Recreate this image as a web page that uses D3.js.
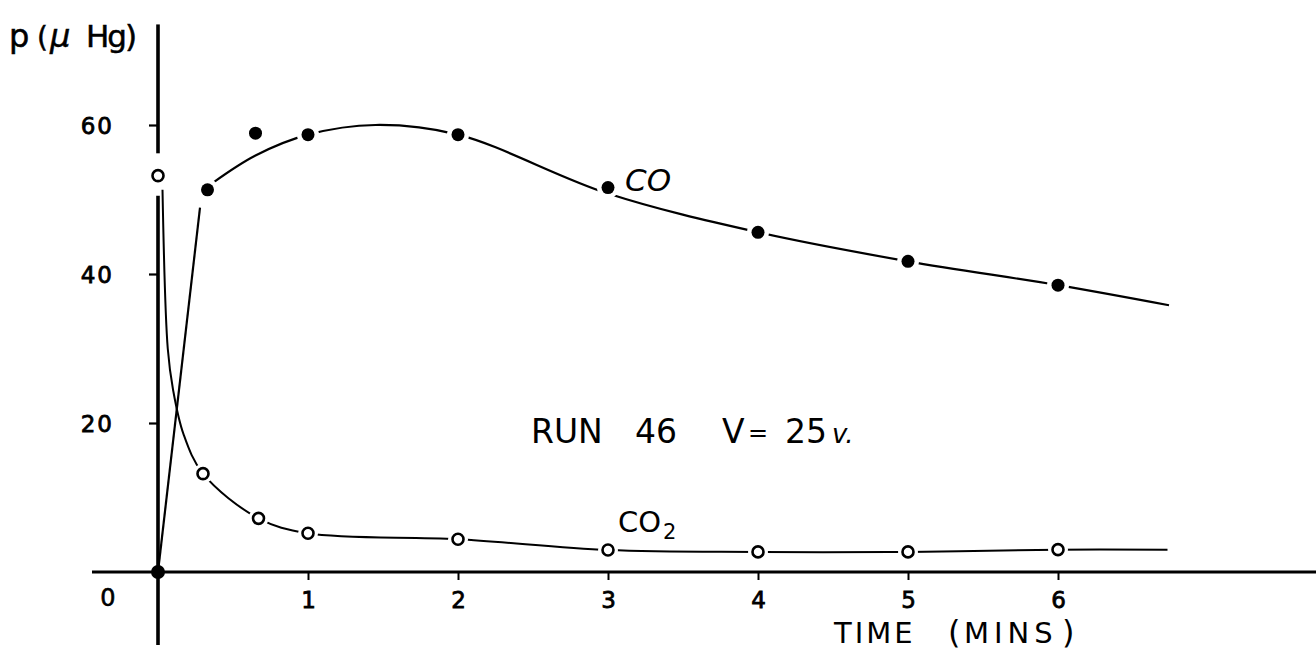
<!DOCTYPE html>
<html>
<head>
<meta charset="utf-8">
<script src="https://cdn.jsdelivr.net/npm/d3@7"></script>
<style>
  html, body { margin: 0; padding: 0; background: #fff; }
  svg { display: block; }
  text { font-family: "DejaVu Sans", sans-serif; fill: #000; }
</style>
</head>
<body>
<svg id="chart" width="1316" height="654"></svg>
<script>
// Measured points, RUN 46
const timeCO  = [0, 0.33, 0.65, 1, 2, 3, 4, 5, 6];
const valueCO = [0, 51.3, 58.9, 58.7, 58.7, 51.6, 45.6, 41.7, 38.5];
const timeCO2  = [0, 0.3, 0.67, 1, 2, 3, 4, 5, 6];
const valueCO2 = [53.2, 13.2, 7.2, 5.2, 4.4, 2.95, 2.7, 2.7, 3.0];

// Hand-faired curves through the measurements
const coRiseT = [0, 0.28];
const coRiseV = [0, 48.9];
const coCurveT = [0.37, 0.65, 1, 1.45, 2, 3, 4, 5, 6, 6.74];
const coCurveV = [52.3, 55.9, 58.7, 60.0, 58.7, 50.8, 45.6, 41.7, 38.5, 35.8];
const co2CurveT = [0.03, 0.065, 0.1, 0.17, 0.3, 0.67, 1, 2, 3, 4, 5, 6, 6.73];
const co2CurveV = [51.3, 30.0, 24.5, 18.5, 13.2, 7.2, 5.2, 4.4, 2.95, 2.7, 2.7, 3.0, 3.0];

// Axis ticks
const xTicks = [1, 2, 3, 4, 5, 6];
const yTicks = [20, 40, 60];

const svg = d3.select("#chart");
const x = d3.scaleLinear().domain([0, 6]).range([158, 1058]);
const y = d3.scaleLinear().domain([0, 60]).range([572, 125]);

const zip = (a, b) => a.map((t, i) => [t, b[i]]);

// ---- axes ----
const axisG = svg.append("g");
// horizontal axis line
axisG.append("line")
  .attr("x1", x(-0.44)).attr("x2", 1316)
  .attr("y1", y(0)).attr("y2", y(0))
  .attr("stroke", "#000").attr("stroke-width", 3.2);
// vertical axis, broken around the first CO2 reading
axisG.append("line")
  .attr("x1", x(0)).attr("x2", x(0))
  .attr("y1", y(73.5)).attr("y2", y(56.2))
  .attr("stroke", "#000").attr("stroke-width", 3.6);
axisG.append("line")
  .attr("x1", x(0)).attr("x2", x(0))
  .attr("y1", y(50.5)).attr("y2", y(-9.8))
  .attr("stroke", "#000").attr("stroke-width", 3.6);

const xAxis = d3.axisBottom(x).tickValues(xTicks).tickSize(8).tickPadding(12)
  .tickFormat(d3.format("d"));
const gx = svg.append("g").attr("transform", `translate(0,${y(0)})`).call(xAxis);
gx.select(".domain").remove();
gx.selectAll(".tick line").attr("stroke-width", 2);
gx.selectAll(".tick text").attr("font-size", 23).attr("font-family", "DejaVu Sans")
  .attr("stroke", "#000").attr("stroke-width", 0.8);

const yAxis = d3.axisLeft(y).tickValues(yTicks).tickSize(9).tickPadding(35);
const gy = svg.append("g").attr("transform", `translate(${x(0)},0)`).call(yAxis);
gy.select(".domain").remove();
gy.selectAll(".tick line").attr("stroke-width", 2.2);
gy.selectAll(".tick text").attr("font-size", 23).attr("font-family", "DejaVu Sans")
  .attr("letter-spacing", 2).attr("stroke", "#000").attr("stroke-width", 0.8)
  .attr("dy", "0.36em");

// origin label
svg.append("text").attr("x", 108).attr("y", 606).attr("text-anchor", "middle")
  .attr("font-size", 24).attr("stroke", "#000").attr("stroke-width", 0.6).text("0");

// ---- curves ----
const line = d3.line().x(d => x(d[0])).y(d => y(d[1]));
const smooth = d3.line().x(d => x(d[0])).y(d => y(d[1])).curve(d3.curveCatmullRom.alpha(0.5));

svg.append("path").datum(zip(coRiseT, coRiseV)).attr("d", line)
  .attr("fill", "none").attr("stroke", "#000").attr("stroke-width", 2.2);
svg.append("path").datum(zip(coCurveT, coCurveV)).attr("d", smooth)
  .attr("fill", "none").attr("stroke", "#000").attr("stroke-width", 2.2);
svg.append("path").datum(zip(co2CurveT, co2CurveV)).attr("d", smooth)
  .attr("fill", "none").attr("stroke", "#000").attr("stroke-width", 2);

// ---- markers (white halo leaves the pen gap around each point) ----
const coPts = zip(timeCO, valueCO);
const co2Pts = zip(timeCO2, valueCO2);

svg.append("g").selectAll("circle").data(coPts.filter(d => d[0] > 0)).join("circle")
  .attr("cx", d => x(d[0])).attr("cy", d => y(d[1])).attr("r", 11).attr("fill", "#fff");
svg.append("g").selectAll("circle").data(co2Pts.filter(d => d[0] > 0)).join("circle")
  .attr("cx", d => x(d[0])).attr("cy", d => y(d[1])).attr("r", 10).attr("fill", "#fff");

svg.append("g").selectAll("circle").data(coPts).join("circle")
  .attr("cx", d => x(d[0])).attr("cy", d => y(d[1]))
  .attr("r", d => d[0] === 0 ? 7 : 6.5).attr("fill", "#000");
svg.append("g").selectAll("circle").data(co2Pts).join("circle")
  .attr("cx", d => x(d[0])).attr("cy", d => y(d[1])).attr("r", 5.5)
  .attr("fill", "#fff").attr("stroke", "#000").attr("stroke-width", 2.6);

// ---- labels ----
const title = svg.append("text").attr("y", 47).attr("font-size", 32)
  .attr("stroke", "#000").attr("stroke-width", 0.5);
title.append("tspan").attr("x", 9).text("p");
title.append("tspan").attr("x", 37).attr("font-size", 28).text("(");
title.append("tspan").attr("x", 50).attr("font-style", "italic").text("μ");
title.append("tspan").attr("x", 86).attr("font-size", 31).attr("letter-spacing", -2).text("Hg)");

svg.append("text").attr("x", 625).attr("y", 191).attr("font-size", 31)
  .attr("font-style", "italic").text("CO");

const co2Label = svg.append("text").attr("x", 618).attr("y", 532).attr("font-size", 29);
co2Label.append("tspan").text("CO");
co2Label.append("tspan").attr("x", 663).attr("y", 539).attr("font-size", 21).text("2");

const run = svg.append("text").attr("y", 443).attr("font-size", 33);
run.append("tspan").attr("x", 531).text("RUN");
run.append("tspan").attr("x", 635).text("46");
run.append("tspan").attr("x", 722).text("V");
run.append("tspan").attr("x", 748).attr("font-size", 24).attr("dy", -2).text("=");
run.append("tspan").attr("x", 785).attr("dy", 2).text("25");
run.append("tspan").attr("x", 832).attr("font-size", 26).attr("font-style", "italic").text("v.");

const tm = svg.append("text").attr("y", 643).attr("font-size", 29).attr("letter-spacing", 3);
tm.append("tspan").attr("x", 834).text("TIME");
tm.append("tspan").attr("x", 948).attr("font-size", 32).attr("letter-spacing", 0).text("(");
tm.append("tspan").attr("x", 964).attr("letter-spacing", 5).text("MINS");
tm.append("tspan").attr("x", 1062).attr("font-size", 32).attr("letter-spacing", 0).text(")");
</script>
</body>
</html>
